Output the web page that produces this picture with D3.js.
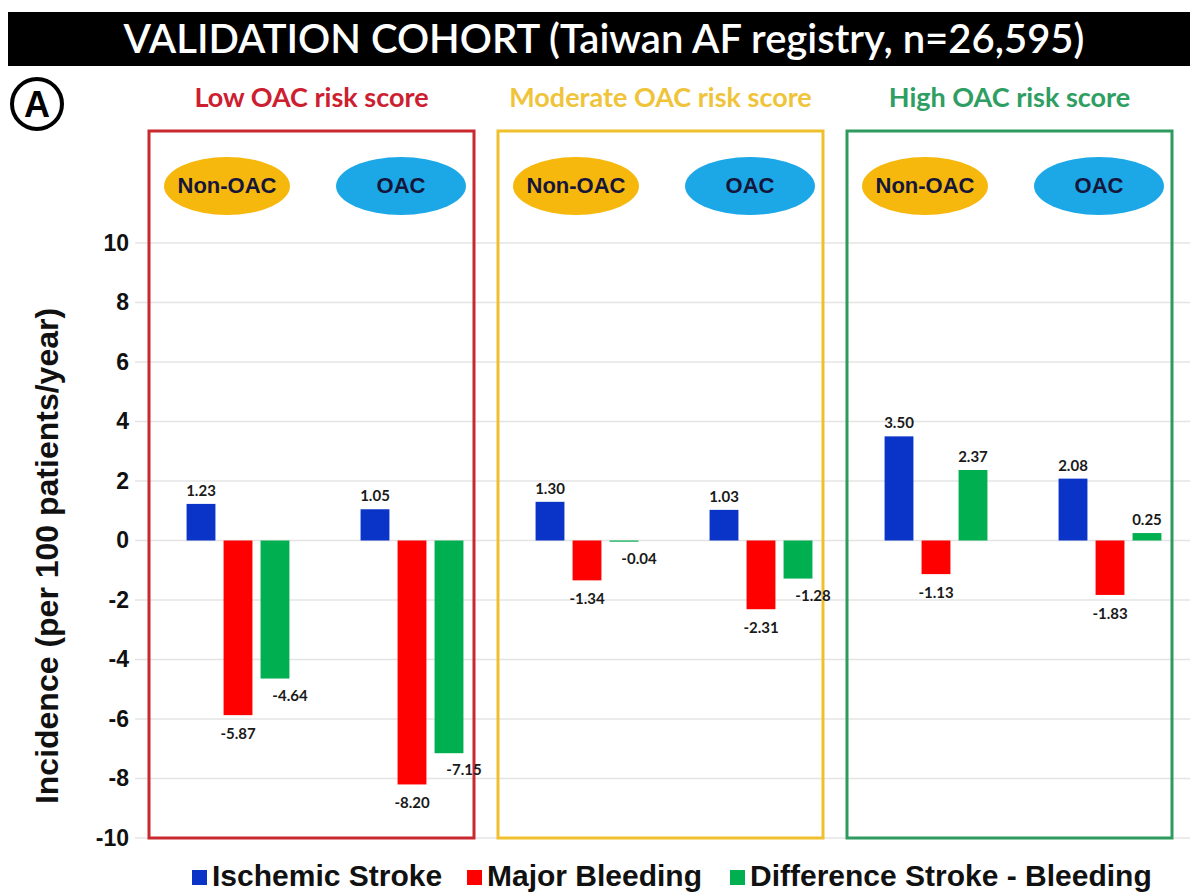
<!DOCTYPE html>
<html>
<head>
<meta charset="utf-8">
<script src="https://cdn.jsdelivr.net/npm/d3@7"></script>
<style>
  body { margin: 0; background: #fff; }
  svg { display: block; }
</style>
</head>
<body>
<svg id="chart" width="1190" height="894"></svg>
<script>
// chart data
const titleText = "VALIDATION COHORT (Taiwan AF registry, n=26,595)";
const panels = ["Low OAC risk score", "Moderate OAC risk score", "High OAC risk score"];
const groups = ["Non-OAC", "OAC"];
const series = ["Ischemic Stroke", "Major Bleeding", "Difference Stroke - Bleeding"];
const strokeValues = [[1.23, 1.05], [1.30, 1.03], [3.50, 2.08]];
const bleedingValues = [[-5.87, -8.20], [-1.34, -2.31], [-1.13, -1.83]];
const differenceValues = [[-4.64, -7.15], [-0.04, -1.28], [2.37, 0.25]];
const yTicks = [-10, -8, -6, -4, -2, 0, 2, 4, 6, 8, 10];

const panelColors = ["#c8282e", "#f0c02c", "#2e9a5e"];
const panelTitleColors = ["#cc2030", "#f0c43a", "#2e9e62"];
const groupFill = { "Non-OAC": "#f6b80c", "OAC": "#1ca8e6" };
const seriesColors = ["#0a34c8", "#ff0000", "#00b050"];
const seriesValues = [strokeValues, bleedingValues, differenceValues];

const svg = d3.select("#chart");
const sansBold = "Liberation Sans, Arial, sans-serif";

// scales
const y = d3.scaleLinear().domain([-10, 10]).range([838, 243]);
const xPanel = d3.scaleBand().domain(panels).range([149, 1172]).paddingInner(24 / 349).paddingOuter(0);
const xGroup = d3.scaleBand().domain(groups).range([2, 350]);
const xSeries = d3.scaleBand().domain(series).range([-55.5, 55.5]).paddingInner(0.22).paddingOuter(0.11);

// title bar
svg.append("rect").attr("x", 8).attr("y", 12).attr("width", 1182).attr("height", 54).attr("fill", "#000");
svg.append("text")
    .attr("x", 604).attr("y", 53)
    .attr("text-anchor", "middle")
    .attr("font-family", "Lato, sans-serif")
    .attr("font-size", 40)
    .attr("font-weight", 600)
    .attr("fill", "#fff")
    .text(titleText);

// circled A
svg.append("circle").attr("cx", 37).attr("cy", 104).attr("r", 25)
    .attr("fill", "none").attr("stroke", "#000").attr("stroke-width", 4);
svg.append("text").attr("x", 37).attr("y", 117)
    .attr("text-anchor", "middle")
    .attr("font-family", sansBold)
    .attr("font-size", 36).attr("font-weight", "bold")
    .text("A");

// gridlines
svg.append("g").selectAll("line")
    .data(yTicks)
    .join("line")
    .attr("x1", 135).attr("x2", 1190)
    .attr("y1", d => y(d)).attr("y2", d => y(d))
    .attr("stroke", "#e4e4e4").attr("stroke-width", 1.5);

// y axis labels
const yAxis = d3.axisLeft(y).tickValues(yTicks).tickSize(0).tickPadding(0).tickFormat(d => String(d));
const yAxisG = svg.append("g").attr("transform", "translate(129,0)").call(yAxis);
yAxisG.select(".domain").remove();
yAxisG.selectAll("text")
    .attr("font-family", sansBold)
    .attr("font-size", 23).attr("font-weight", "bold").attr("fill", "#111");

svg.append("text")
    .attr("transform", "translate(58,556) rotate(-90)")
    .attr("text-anchor", "middle")
    .attr("font-family", sansBold)
    .attr("font-size", 32).attr("font-weight", "bold").attr("fill", "#111")
    .text("Incidence (per 100 patients/year)");

// panels
panels.forEach((panel, pi) => {
    const px = xPanel(panel);
    const pg = svg.append("g").attr("transform", `translate(${px},0)`);

    pg.append("rect")
        .attr("x", 0).attr("y", 131)
        .attr("width", xPanel.bandwidth()).attr("height", y(-10) - 131)
        .attr("fill", "none").attr("stroke", panelColors[pi]).attr("stroke-width", 3);

    pg.append("text")
        .attr("x", xPanel.bandwidth() / 2).attr("y", 107)
        .attr("text-anchor", "middle")
        .attr("font-family", "Lato, sans-serif")
        .attr("font-size", 27).attr("font-weight", "bold")
        .attr("fill", panelTitleColors[pi])
        .text(panel);

    groups.forEach((grp, gi) => {
        const gx = xGroup(grp) + xGroup.bandwidth() / 2;

        pg.append("ellipse")
            .attr("cx", gx - 11).attr("cy", 186)
            .attr("rx", grp === "OAC" ? 65 : 63).attr("ry", 29)
            .attr("fill", groupFill[grp]);
        pg.append("text")
            .attr("x", gx - 11).attr("y", 193)
            .attr("text-anchor", "middle")
            .attr("font-family", sansBold)
            .attr("font-size", 22).attr("font-weight", "bold")
            .attr("fill", "#16163a")
            .text(grp);

        const bars = series.map((s, si) => ({ s, si, v: seriesValues[si][pi][gi] }));
        const bg = pg.append("g").attr("transform", `translate(${gx},0)`);

        bg.selectAll("rect")
            .data(bars)
            .join("rect")
            .attr("x", d => xSeries(d.s))
            .attr("width", xSeries.bandwidth())
            .attr("y", d => y(Math.max(0, d.v)))
            .attr("height", d => Math.abs(y(d.v) - y(0)))
            .attr("fill", d => seriesColors[d.si]);

        bg.selectAll("text")
            .data(bars)
            .join("text")
            .attr("x", d => xSeries(d.s) + xSeries.bandwidth() / 2 + (d.v < 0 && d.si === 2 ? 15 : 0))
            .attr("y", d => d.v >= 0 ? y(d.v) - 8 : y(d.v) + (d.si === 2 ? 22 : 24))
            .attr("text-anchor", "middle")
            .attr("font-family", "Lato, sans-serif")
            .attr("font-size", 15).attr("font-weight", "bold")
            .attr("fill", "#1a1a1a")
            .text(d => d.v.toFixed(2));
    });
});

// legend
const legendX = [192, 467, 730];
const legend = svg.append("g").selectAll("g")
    .data(series)
    .join("g")
    .attr("transform", (d, i) => `translate(${legendX[i]},0)`);
legend.append("rect")
    .attr("x", 0).attr("y", 870).attr("width", 15).attr("height", 15)
    .attr("fill", (d, i) => seriesColors[i]);
legend.append("text")
    .attr("x", 20).attr("y", 886)
    .attr("font-family", sansBold)
    .attr("font-size", 30).attr("font-weight", "bold").attr("fill", "#111")
    .text(d => d);
</script>
</body>
</html>
